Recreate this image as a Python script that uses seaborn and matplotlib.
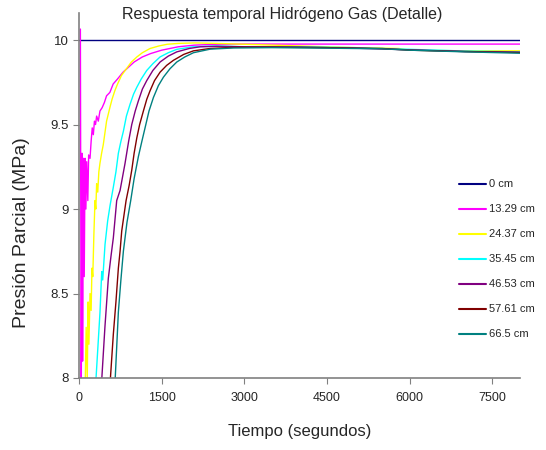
import numpy as np
import pandas as pd
import matplotlib
matplotlib.use("Agg")
import matplotlib.pyplot as plt
import seaborn as sns

# Sensor positions (legend labels)
labels = ["0 cm", "13.29 cm", "24.37 cm", "35.45 cm", "46.53 cm", "57.61 cm", "66.5 cm"]
colors = ["#000080", "#FF00FF", "#FFFF00", "#00FFFF", "#800080", "#800000", "#008080"]

# Time (s) and partial pressure (MPa) for each sensor
t_0 = [0, 8000]
p_0 = [10.0, 10.0]

t_13 = [25, 40, 55, 65, 80, 95, 110, 125, 140, 160, 175, 200, 220, 240, 260, 280, 300, 320,
        350, 380, 420, 460, 500, 560, 620, 700, 800, 900, 1000, 1150, 1300, 1500, 1800, 2100,
        2500, 3000, 4000, 5000, 6000, 7000, 8000]
p_13 = [10.065, 7.8, 9.33, 8.1, 9.3, 8.6, 9.3, 9.0, 9.28, 9.05, 9.32, 9.3, 9.4, 9.48, 9.44,
        9.52, 9.5, 9.55, 9.52, 9.58, 9.6, 9.63, 9.67, 9.69, 9.74, 9.77, 9.81, 9.84, 9.87, 9.9,
        9.92, 9.94, 9.96, 9.97, 9.975, 9.976, 9.976, 9.976, 9.976, 9.976, 9.976]

t_24 = [110, 130, 150, 165, 180, 200, 220, 235, 250, 270, 290, 305, 320, 340, 360, 380, 410,
        440, 470, 500, 530, 560, 600, 650, 700, 770, 860, 950, 1050, 1150, 1290, 1450, 1600,
        1800, 2100, 2500, 3000, 4000, 5000, 5800, 6000, 7000, 8000]
p_24 = [7.9, 8.3, 8.0, 8.45, 8.2, 8.5, 8.4, 8.65, 8.6, 8.85, 9.05, 9.0, 9.15, 9.1, 9.22, 9.27,
        9.33, 9.38, 9.45, 9.52, 9.56, 9.6, 9.65, 9.7, 9.74, 9.79, 9.83, 9.87, 9.9, 9.925, 9.95,
        9.965, 9.975, 9.98, 9.983, 9.98, 9.975, 9.965, 9.955, 9.95, 9.94, 9.936, 9.936]

t_35 = [300, 381, 412, 430, 472, 520, 563, 623, 670, 714, 760, 805, 860, 926, 990, 1048, 1130,
        1229, 1340, 1471, 1620, 1774, 2070, 2500, 3000, 4000, 5000, 6000, 7000, 8000]
p_35 = [7.95, 8.39, 8.63, 8.58, 8.79, 8.93, 9.02, 9.13, 9.22, 9.33, 9.4, 9.46, 9.55, 9.62,
        9.68, 9.72, 9.77, 9.82, 9.86, 9.9, 9.925, 9.945, 9.96, 9.965, 9.96, 9.96, 9.955, 9.945,
        9.935, 9.93]

t_46 = [405, 470, 532, 580, 623, 684, 745, 790, 835, 900, 957, 1020, 1077, 1150, 1229, 1340,
        1471, 1620, 1774, 2000, 2197, 2500, 3000, 4000, 5000, 6000, 7000, 8000]
p_46 = [7.95, 8.3, 8.59, 8.72, 8.83, 9.05, 9.11, 9.19, 9.27, 9.4, 9.5, 9.58, 9.64, 9.71, 9.76,
        9.82, 9.87, 9.905, 9.93, 9.95, 9.96, 9.963, 9.96, 9.958, 9.952, 9.942, 9.932, 9.928]

t_57 = [560, 623, 670, 714, 745, 775, 810, 854, 910, 957, 1000, 1048, 1100, 1168, 1230, 1289,
        1370, 1471, 1590, 1713, 1900, 2076, 2380, 2800, 3500, 4500, 5500, 6000, 7000, 8000]
p_57 = [7.95, 8.26, 8.45, 8.65, 8.75, 8.87, 8.95, 9.05, 9.14, 9.23, 9.33, 9.42, 9.5, 9.58,
        9.65, 9.7, 9.76, 9.81, 9.85, 9.88, 9.915, 9.936, 9.95, 9.957, 9.958, 9.955, 9.95, 9.94,
        9.932, 9.926]

t_66 = [650, 714, 760, 805, 870, 938, 1000, 1077, 1140, 1198, 1270, 1350, 1440, 1531, 1650,
        1774, 1920, 2076, 2379, 2800, 3500, 4500, 5500, 6000, 7000, 8000]
p_66 = [7.95, 8.39, 8.58, 8.75, 8.92, 9.05, 9.18, 9.31, 9.4, 9.48, 9.58, 9.66, 9.73, 9.78,
        9.83, 9.87, 9.9, 9.925, 9.946, 9.953, 9.955, 9.952, 9.948, 9.94, 9.93, 9.922]

x_ticks = [0, 1500, 3000, 4500, 6000, 7500]
y_ticks = [8, 8.5, 9, 9.5, 10]
y_tick_labels = ["8", "8.5", "9", "9.5", "10"]

series = [(t_0, p_0), (t_13, p_13), (t_24, p_24), (t_35, p_35),
          (t_46, p_46), (t_57, p_57), (t_66, p_66)]
frames = []
for lab, (t, p) in zip(labels, series):
    frames.append(pd.DataFrame({"t": t, "p": p, "sensor": lab}))
df = pd.concat(frames, ignore_index=True)

sns.set_style("white")
plt.rcParams["font.family"] = ["Liberation Sans", "DejaVu Sans"]

fig = plt.figure(figsize=(5.46, 4.5), dpi=100)
ax = fig.add_axes([79 / 546, 72 / 450, 441 / 546, 365 / 450])

sns.lineplot(data=df, x="t", y="p", hue="sensor", hue_order=labels,
             palette=dict(zip(labels, colors)), estimator=None, sort=False,
             linewidth=1.0, ax=ax, legend=False)

ax.set_xlim(0, 8000)
ax.set_ylim(8, 10.16)
ax.set_xticks(x_ticks)
ax.set_xticklabels([str(v) for v in x_ticks], fontsize=9)
ax.set_yticks(y_ticks)
ax.set_yticklabels(y_tick_labels, fontsize=9.5)
ax.tick_params(axis="both", direction="out", length=4, width=0.8, color="#808080",
               bottom=True, left=True)
ax.tick_params(axis="x", pad=6)
ax.tick_params(axis="y", pad=3.5)

for side in ["top", "right"]:
    ax.spines[side].set_visible(False)
for side in ["left", "bottom"]:
    ax.spines[side].set_color("#808080")
    ax.spines[side].set_linewidth(1.2)

ax.set_xlabel("Tiempo (segundos)", fontsize=12)
ax.xaxis.set_label_coords(221 / 441, -(424 - 378) / 365)
ax.set_ylabel("Presión Parcial (MPa)", fontsize=14)
ax.yaxis.set_label_coords(-(79 - 30) / 441, (378 - 233) / 365)

fig.text(282 / 546, 1 - 15 / 450, "Respuesta temporal Hidrógeno Gas (Detalle)",
         fontsize=11.5, ha="center", va="center")

handles = [plt.Line2D([], [], color=c, linewidth=1.5) for c in colors]
ax.legend(handles, labels, loc="upper left", bbox_to_anchor=(455 / 546, 1 - 175 / 450),
          bbox_transform=fig.transFigure, frameon=False, fontsize=8,
          handlelength=2.4, handletextpad=0.3, labelspacing=1.35, borderaxespad=0)

fig.savefig("out.png", dpi=100)
